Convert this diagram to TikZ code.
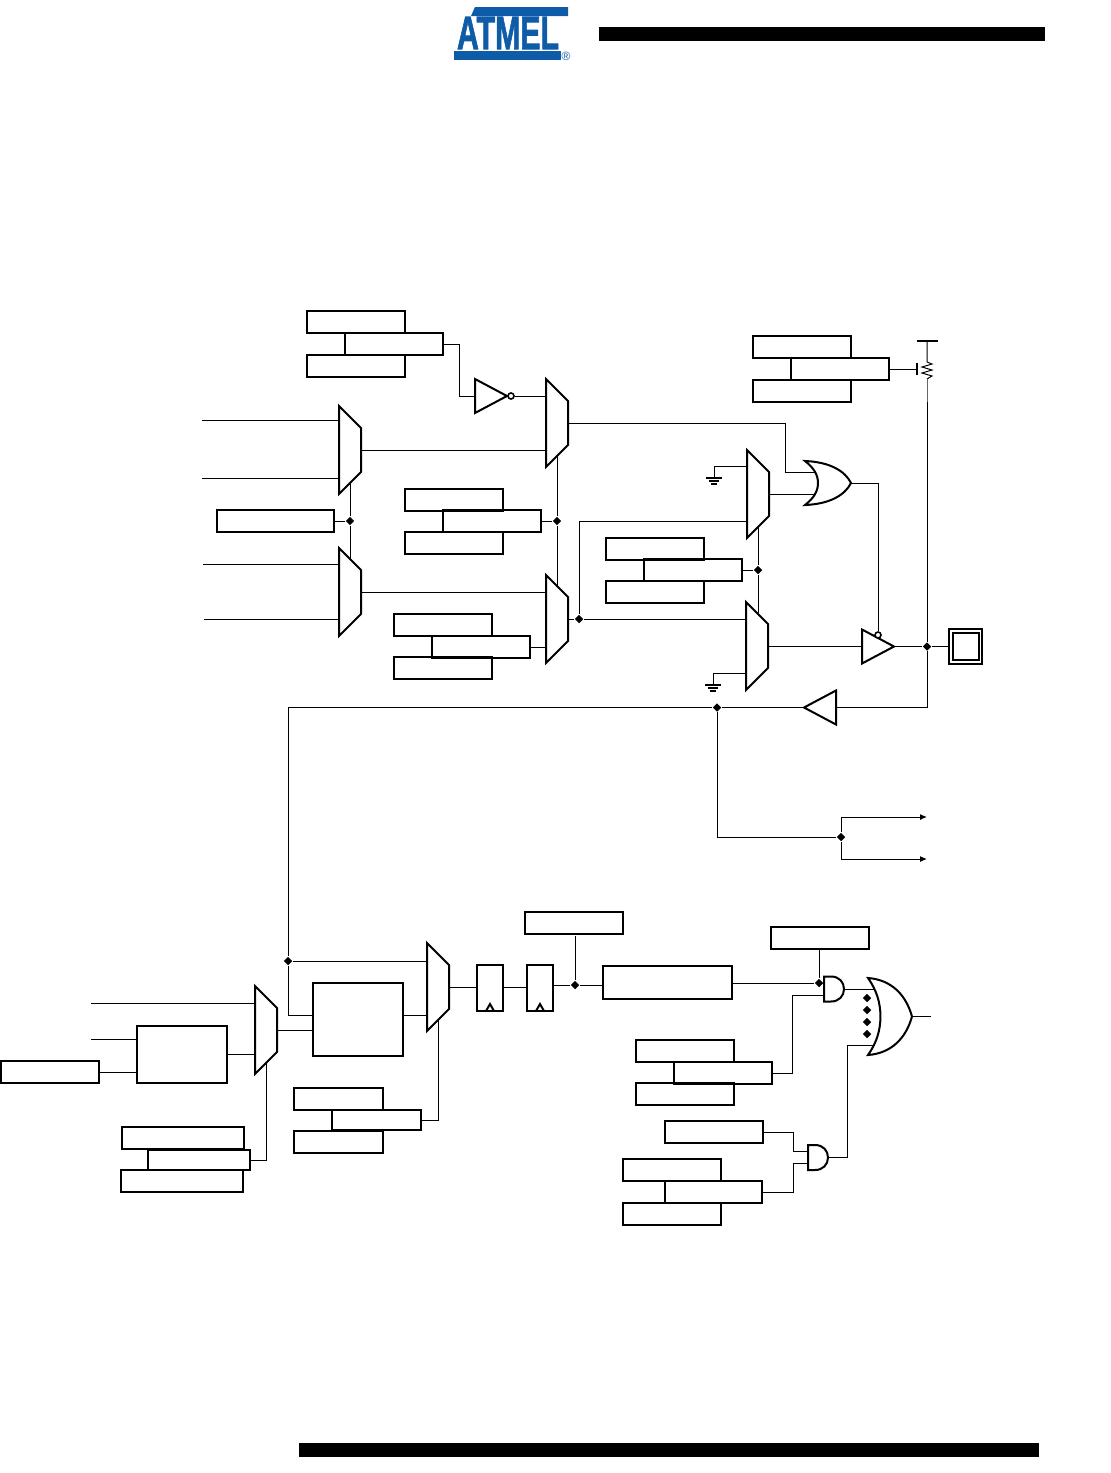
\documentclass[tikz,border=0pt]{standalone}
\usepackage{fontspec}
\setmainfont{Liberation Sans}
\newfontfamily\logofont[FakeBold=2.2,FakeStretch=1.25]{Liberation Sans Bold}
\usetikzlibrary{arrows.meta,shapes.geometric}
\definecolor{atmelblue}{RGB}{14,92,168}
\tikzset{
  wire/.style={line width=.5pt},
  regbox/.style={draw,line width=1pt,anchor=north west,inner sep=0pt,outer sep=0pt,minimum width=49pt,minimum height=11pt},
  jdot/.style={diamond,fill,inner sep=0pt,minimum size=4.4pt},
  bubble/.style={circle,draw,fill=white,line width=.8pt,inner sep=0pt,minimum size=3pt},
  muxshape/.pic={
    \draw[line width=1pt,fill=white] (0,0) -- (22,22) -- (22,66) -- (0,88) -- cycle;
    \coordinate (-l) at (0,44);
    \coordinate (-r) at (22,44);
    \coordinate (-t) at (11,11);
    \coordinate (-b) at (11,77);
  },
  orshape/.pic={
    \draw[line width=1pt,fill=white] (0,-22) .. controls (25,-21) and (40,-12) .. (46,0)
      .. controls (40,12) and (25,21) .. (0,22) .. controls (9,15) and (13,8) .. (13,0)
      .. controls (13,-8) and (9,-15) .. (0,-22) -- cycle;
    \coordinate (-a) at (10,-11);
    \coordinate (-b) at (10,11);
    \coordinate (-back) at (7.5,0);
    \coordinate (-out) at (46,0);
  },
  andshape/.pic={
    \draw[line width=1pt,fill=white] (0,-12.5) -- (7,-12.5) .. controls (15,-12.5) and (20,-7) .. (20,0)
      .. controls (20,7) and (15,12.5) .. (7,12.5) -- (0,12.5) -- cycle;
    \coordinate (-a) at (0,-6);
    \coordinate (-b) at (0,6);
    \coordinate (-out) at (20,0);
  },
  bufshape/.pic={
    \draw[line width=1pt,fill=white] (0,-17) -- (32,0) -- (0,17) -- cycle;
    \coordinate (-in) at (0,0);
    \coordinate (-out) at (32,0);
  },
  gndshape/.pic={
    \draw[line width=1pt] (-8,12) -- (8,12);
    \draw[line width=1pt] (-5,15) -- (5,15);
    \draw[line width=1pt] (-3,18) -- (3,18);
    \draw[wire] (0,0) -- (0,12);
    \coordinate (-top) at (0,0);
  },
}
\begin{document}
\begin{tikzpicture}[x=.5pt,y=-.5pt]
\useasboundingbox (0,0) rectangle (1110,1473);
% page bars and logo
\fill (599,27) rectangle (1045,41);
\fill (299,1443) rectangle (1039,1457);
\fill[atmelblue] (475,7) -- (568,7) -- (568,16) -- (471,16) -- cycle;
\fill[atmelblue] (454,51) -- (561,51) -- (561,60) -- (454,60) -- cycle;
\node[atmelblue,inner sep=0pt] (logo) at (508,33) {\resizebox{51pt}{16pt}{\logofont ATMEL}};
\node[atmelblue,inner sep=0pt] (logoR) at (566,56) {\fontsize{6}{6}\selectfont\textregistered};
% registers
\node[regbox] (aTop) at (307,311) {};
\node[regbox] (aLow) at (307,355) {};
\node[regbox] (aMid) at (345,333) {};
\node[regbox] (bTop) at (405,489) {};
\node[regbox] (bLow) at (405,532) {};
\node[regbox] (bMid) at (443,510) {};
\node[regbox] (cTop) at (394,614) {};
\node[regbox] (cLow) at (394,657) {};
\node[regbox] (cMid) at (432,636) {};
\node[regbox] (dTop) at (606,538) {};
\node[regbox] (dLow) at (606,581) {};
\node[regbox] (dMid) at (644,559) {};
\node[regbox] (eTop) at (753,336) {};
\node[regbox] (eLow) at (753,380) {};
\node[regbox] (eMid) at (791,358) {};
\node[regbox,minimum width=58.5pt] (sBox) at (217,510) {};
\node[regbox,minimum width=61pt] (hTop) at (122,1127) {};
\node[regbox,minimum width=61pt] (hLow) at (121,1170) {};
\node[regbox,minimum width=51pt,minimum height=10pt] (hMid) at (148,1150) {};
\node[regbox,minimum width=44.5pt] (kTop) at (294,1088) {};
\node[regbox,minimum width=44.5pt] (kLow) at (294,1131) {};
\node[regbox,minimum width=44.5pt,minimum height=10pt] (kMid) at (332,1110) {};
\node[regbox] (gBox) at (1,1061) {};
\node[regbox] (tBox) at (525,912) {};
\node[regbox] (uBox) at (771,927) {};
\node[regbox] (mTop) at (636,1040) {};
\node[regbox] (mLow) at (636,1083) {};
\node[regbox] (mMid) at (674,1062) {};
\node[regbox] (vBox) at (665,1121) {};
\node[regbox] (nTop) at (623,1159) {};
\node[regbox] (nLow) at (623,1203) {};
\node[regbox,minimum width=48.5pt] (nMid) at (665,1181) {};
\node[regbox,minimum width=45pt,minimum height=28.5pt] (fBox) at (137,1026) {};
\node[regbox,minimum width=45pt,minimum height=36.5pt] (jBox) at (313,983) {};
\node[regbox,minimum width=13pt,minimum height=23pt] (ff1) at (477,965) {};
\node[regbox,minimum width=13pt,minimum height=23pt] (ff2) at (527,965) {};
\node[regbox,minimum width=64.5pt,minimum height=16.5pt] (lBox) at (603,966) {};
\node[regbox,minimum width=16.5pt,minimum height=17.5pt] (padOut) at (949,629) {};
\node[regbox,minimum width=13pt,minimum height=13.5pt] (padIn) at (953,633) {};
% clock marks
\draw[line width=1pt] (ff1.south) ++(-4,0) -- ++(4,-7) -- ++(4,7);
\draw[line width=1pt] (ff2.south) ++(-4,0) -- ++(4,-7) -- ++(4,7);
% muxes and gates
\pic (m1) at (339,406) {muxshape};
\pic (m2) at (339,548) {muxshape};
\pic (m3) at (546,379) {muxshape};
\pic (m4) at (546,575) {muxshape};
\pic (m5) at (747,450) {muxshape};
\pic (m6) at (746,602) {muxshape};
\pic (m7) at (255,986) {muxshape};
\pic (m8) at (427,943) {muxshape};
\pic (or1) at (805,483) {orshape};
\pic[xscale=.956,yscale=1.75] (or2) at (868,1016.5) {orshape};
\pic (a1) at (824,989) {andshape};
\pic (a2) at (808,1157.5) {andshape};
\pic (inv) at (475,396) {bufshape};
\pic (tri) at (862,646.5) {bufshape};
\pic[xscale=-1] (ib) at (836,707.5) {bufshape};
\pic (g1) at (714,466) {gndshape};
\pic (g2) at (713,673) {gndshape};
\node[bubble] (b1) at (511,396) {};
\node[bubble] (b2) at (878,635) {};
% junctions
\node[jdot] (dot1) at (350,521) {};
\node[jdot] (dot2) at (557,521) {};
\node[jdot] (dotV) at (579,619) {};
\node[jdot] (dot3) at (758,570) {};
\node[jdot] (dotP) at (927,646.5) {};
\node[jdot] (dotQ) at (717,707.5) {};
\node[jdot] (dotU) at (841,837) {};
\node[jdot] (dotR) at (288,961) {};
\node[jdot] (dotS) at (575,985) {};
\node[jdot] (dotT) at (819,983) {};
\foreach \i/\y in {1/998,2/1010,3/1022,4/1034}
  \node[jdot] (d\i) at (867,\y) {};
% free ends and bends
\coordinate (in1a) at (202,420);
\coordinate (in1b) at (202,478);
\coordinate (in2a) at (203,564);
\coordinate (in2b) at (204,619);
\coordinate (in7) at (91,1003);
\coordinate (inF) at (91,1039);
\coordinate (bendA) at (459,396);
\coordinate (bendO) at (785,472);
\coordinate (mIn5) at (747,521);
\coordinate (turn) at (288,707.5);
\coordinate (jIn) at (313,1015);
\coordinate (jOut) at (403,1015);
\coordinate (outA) at (927,817);
\coordinate (outB) at (927,859);
\coordinate (outC) at (931,1016.5);
\coordinate (bendM) at (792,1073);
\coordinate (bendV) at (793,1132);
\coordinate (bendN) at (793,1192);
\coordinate (bendL) at (847,1045);
\coordinate (rTop) at (927,341);
\coordinate (rA) at (927,362);
\coordinate (rB) at (927,379);
\coordinate (rEnd) at (927,402);
\coordinate (tick) at (917,369);
% upper half
\draw[wire] (in1a) -- (in1a -| m1-l);
\draw[wire] (in1b) -- (in1b -| m1-l);
\draw[wire] (in2a) -- (in2a -| m2-l);
\draw[wire] (in2b) -- (in2b -| m2-l);
\draw[wire] (m1-b) -- (dot1) -- (m2-t);
\draw[wire] (sBox.east) -- (dot1);
\draw[wire] (m1-r) -- (m1-r -| m3-l);
\draw[wire] (m2-r) -- (m2-r -| m4-l);
\draw[wire] (aMid.east) -| (bendA) -- (inv-in);
\draw[wire] (b1.east) -- (b1.east -| m3-l);
\draw[wire] (m3-b) -- (dot2) -- (m4-t);
\draw[wire] (bMid.east) -- (dot2);
\draw[wire] (cMid.east) -- (cMid.east -| m4-l);
\draw[wire] (m4-r) -- (dotV) -- (dotV -| m6-l);
\draw[wire] (dotV) |- (mIn5);
\draw[wire] (m3-r) -| (bendO) -- (or1-a);
\draw[wire] (m5-r) -- (or1-b);
\draw[wire] (g1-top) -- (g1-top -| m5-l);
\draw[wire] (g2-top) -- (g2-top -| m6-l);
\draw[wire] (m5-b) -- (dot3) -- (dot3 |- m6-t);
\draw[wire] (dMid.east) -- (dot3);
\draw[wire] (or1-out) -| (b2.north);
\draw[wire] (m6-r) -- (m6-r -| tri-in);
\draw[wire] (tri-out) -- (dotP) -- (padOut.west);
\draw[wire] (eMid.east) -- (tick);
\draw[line width=1pt] (917,363) -- (tick) -- (917,375);
\draw[line width=1pt] (917,341) -- (rTop) -- (938,341);
\draw[wire] (rTop) -- (rA) -- ++(5,2) -- ++(-10,3) -- ++(10,3) -- ++(-10,3) -- ++(10,3) -- (rB);
\draw[wire,black!60] (rB) -- (rEnd);
\draw[wire] (rEnd) -- (dotP) |- (ib-in);
\draw[wire] (ib-out) -- (dotQ) -- (turn) -- (dotR) |- (jIn);
\draw[wire] (dotR) -- (dotR -| m8-l);
\draw[wire] (dotQ) |- (dotU);
\draw[wire,-{Latex[length=3.5pt,width=3pt]}] (dotU) |- (outA);
\draw[wire,-{Latex[length=3.5pt,width=3pt]}] (dotU) |- (outB);
% lower half
\draw[wire] (in7) -- (in7 -| m7-l);
\draw[wire] (inF) -- (inF -| fBox.west);
\draw[wire] (gBox.east) -- (gBox.east -| fBox.west);
\draw[wire] (fBox.east) -- (fBox.east -| m7-l);
\draw[wire] (m7-r) -- (m7-r -| jBox.west);
\draw[wire] (m7-b) |- (hMid.east);
\draw[wire] (m8-b) |- (kMid.east);
\draw[wire] (jOut) -- (jOut -| m8-l);
\draw[wire] (m8-r) -- (m8-r -| ff1.west);
\draw[wire] (m8-r -| ff1.east) -- (m8-r -| ff2.west);
\draw[wire] (dotS -| ff2.east) -- (dotS) -- (dotS -| lBox.west);
\draw[wire] ([yshift=-1pt]dotS |- tBox.south) -- (dotS);
\draw[wire] (dotT -| lBox.east) -- (dotT) -- (a1-a);
\draw[wire] (dotT |- uBox.south) -- (dotT);
\draw[wire] (a1-b) -| (bendM) -- (mMid.east);
\draw[wire] (a1-out) -- (a1-out -| or2-back);
\draw[wire] (a2-a) -| (bendV) -- (vBox.east);
\draw[wire] (a2-b) -| (bendN) -- (nMid.east);
\draw[wire] (a2-out) -| (bendL) -- (bendL -| or2-back);
\draw[wire] (or2-out) -- (outC);
\end{tikzpicture}
\end{document}
